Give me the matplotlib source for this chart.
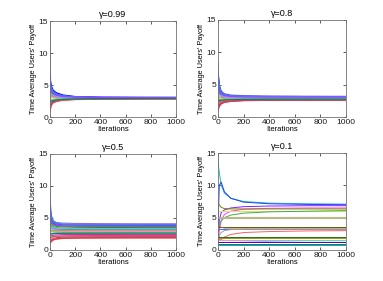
import numpy as np
import matplotlib.pyplot as plt

plt.rcParams['font.family'] = ['Liberation Sans', 'DejaVu Sans']

# iterations at which the curves are sampled
iters = [1, 4, 10, 25, 50, 100, 200, 400, 700, 1000]

titles = ['\u03b3=0.99', '\u03b3=0.8', '\u03b3=0.5', '\u03b3=0.1']

colors = ['#8b6fd0', '#0000ff', '#2040e0', '#ff2020', '#e04040', '#10a010',
          '#30c030', '#00c0c0', '#d020d0', '#a0a000', '#808080', '#ff8080',
          '#40a0a0', '#6060ff', '#c0c020', '#20b060', '#b04080', '#ff60ff',
          '#70d070', '#4080ff', '#c06040', '#60c0e0', '#a040ff', '#008080']

# gamma = 0.99
p1 = [
    [15.0, 6.0, 4.4, 3.8, 3.5, 3.25, 3.1, 3.05, 3.05, 3.05],
    [6.5, 5.6, 4.9, 4.2, 3.8, 3.45, 3.2, 3.1, 3.08, 3.07],
    [5.8, 5.2, 4.6, 4.0, 3.6, 3.35, 3.15, 3.06, 3.04, 3.03],
    [1.0, 1.5, 2.0, 2.3, 2.5, 2.65, 2.75, 2.8, 2.82, 2.83],
    [0.8, 1.2, 1.8, 2.2, 2.4, 2.6, 2.72, 2.78, 2.8, 2.82],
    [5.0, 4.6, 4.1, 3.7, 3.4, 3.2, 3.08, 3.03, 3.01, 3.0],
    [4.5, 4.2, 3.9, 3.5, 3.3, 3.12, 3.04, 3.0, 2.98, 2.98],
    [3.5, 3.6, 3.5, 3.3, 3.15, 3.05, 3.0, 2.97, 2.96, 2.96],
    [2.0, 2.3, 2.5, 2.65, 2.72, 2.8, 2.85, 2.88, 2.9, 2.9],
    [4.0, 4.0, 3.8, 3.5, 3.3, 3.15, 3.06, 3.02, 3.0, 3.0],
    [2.5, 2.6, 2.65, 2.7, 2.75, 2.8, 2.86, 2.9, 2.91, 2.92],
    [1.5, 1.9, 2.2, 2.4, 2.55, 2.7, 2.8, 2.85, 2.87, 2.88],
    [3.0, 3.2, 3.3, 3.2, 3.1, 3.02, 2.98, 2.96, 2.95, 2.95],
    [5.5, 4.9, 4.4, 3.9, 3.55, 3.3, 3.12, 3.05, 3.04, 3.03],
    [2.8, 3.0, 3.0, 3.0, 2.98, 2.96, 2.95, 2.94, 2.94, 2.94],
    [4.2, 3.9, 3.7, 3.4, 3.2, 3.08, 3.02, 2.99, 2.98, 2.98],
    [1.2, 1.6, 2.0, 2.35, 2.55, 2.72, 2.8, 2.84, 2.86, 2.86],
    [3.8, 3.5, 3.4, 3.25, 3.1, 3.02, 2.98, 2.96, 2.95, 2.95],
    [2.2, 2.4, 2.6, 2.75, 2.82, 2.86, 2.9, 2.92, 2.93, 2.93],
    [6.0, 5.3, 4.6, 3.9, 3.55, 3.3, 3.14, 3.08, 3.06, 3.06],
    [1.8, 2.0, 2.3, 2.5, 2.62, 2.74, 2.82, 2.86, 2.88, 2.89],
    [3.2, 3.4, 3.6, 3.45, 3.25, 3.1, 3.02, 2.99, 2.98, 2.97],
    [4.8, 4.4, 4.0, 3.6, 3.4, 3.2, 3.08, 3.03, 3.01, 3.01],
    [2.6, 2.4, 2.45, 2.55, 2.65, 2.75, 2.84, 2.88, 2.9, 2.91],
]

# gamma = 0.8
p2 = [
    [8.5, 6.5, 5.0, 4.0, 3.6, 3.4, 3.3, 3.25, 3.22, 3.2],
    [7.0, 6.0, 4.8, 3.9, 3.5, 3.3, 3.2, 3.15, 3.12, 3.1],
    [6.5, 5.6, 4.5, 3.8, 3.4, 3.2, 3.1, 3.05, 3.02, 3.0],
    [1.0, 1.4, 1.8, 2.1, 2.3, 2.45, 2.55, 2.6, 2.62, 2.63],
    [0.8, 1.2, 1.6, 2.0, 2.25, 2.4, 2.52, 2.58, 2.6, 2.6],
    [5.5, 5.0, 4.2, 3.6, 3.3, 3.15, 3.05, 3.0, 2.98, 2.97],
    [5.0, 4.6, 4.0, 3.5, 3.25, 3.1, 3.0, 2.95, 2.93, 2.92],
    [4.0, 3.9, 3.6, 3.3, 3.1, 3.0, 2.92, 2.88, 2.86, 2.85],
    [2.0, 2.2, 2.4, 2.55, 2.65, 2.72, 2.76, 2.78, 2.79, 2.8],
    [4.5, 4.3, 3.9, 3.5, 3.3, 3.2, 3.15, 3.12, 3.1, 3.1],
    [2.5, 2.6, 2.7, 2.75, 2.78, 2.8, 2.82, 2.83, 2.84, 2.84],
    [1.5, 1.8, 2.1, 2.35, 2.5, 2.6, 2.66, 2.7, 2.72, 2.72],
    [3.0, 3.1, 3.1, 3.05, 3.0, 2.97, 2.95, 2.94, 2.93, 2.93],
    [6.0, 5.3, 4.4, 3.7, 3.4, 3.25, 3.2, 3.17, 3.16, 3.15],
    [2.8, 2.9, 2.95, 2.95, 2.93, 2.9, 2.88, 2.87, 2.87, 2.87],
    [4.2, 4.0, 3.7, 3.4, 3.2, 3.08, 3.0, 2.97, 2.96, 2.95],
    [1.2, 1.5, 1.9, 2.2, 2.4, 2.5, 2.58, 2.62, 2.64, 2.65],
    [3.8, 3.6, 3.4, 3.2, 3.05, 2.98, 2.93, 2.91, 2.9, 2.9],
    [2.2, 2.4, 2.6, 2.7, 2.74, 2.77, 2.79, 2.8, 2.8, 2.8],
    [7.5, 6.2, 4.9, 3.9, 3.5, 3.3, 3.22, 3.18, 3.16, 3.15],
    [1.8, 2.0, 2.3, 2.5, 2.6, 2.68, 2.72, 2.75, 2.76, 2.76],
    [3.2, 3.4, 3.5, 3.35, 3.2, 3.1, 3.05, 3.02, 3.01, 3.0],
    [4.8, 4.4, 3.9, 3.5, 3.3, 3.18, 3.1, 3.06, 3.05, 3.05],
    [2.6, 2.5, 2.55, 2.6, 2.65, 2.7, 2.73, 2.75, 2.76, 2.76],
]

# gamma = 0.5
p3 = [
    [10.0, 7.0, 5.5, 4.6, 4.3, 4.2, 4.15, 4.12, 4.1, 4.1],
    [7.0, 6.0, 5.0, 4.4, 4.1, 3.95, 3.9, 3.88, 3.87, 3.86],
    [6.0, 5.4, 4.7, 4.2, 3.9, 3.75, 3.7, 3.68, 3.67, 3.66],
    [1.0, 1.2, 1.4, 1.6, 1.75, 1.85, 1.9, 1.92, 1.93, 1.93],
    [0.8, 1.1, 1.3, 1.55, 1.7, 1.8, 1.85, 1.87, 1.88, 1.88],
    [5.5, 5.0, 4.4, 3.9, 3.7, 3.6, 3.55, 3.52, 3.5, 3.5],
    [5.0, 4.6, 4.1, 3.7, 3.5, 3.4, 3.35, 3.33, 3.32, 3.32],
    [4.0, 3.9, 3.6, 3.3, 3.15, 3.08, 3.05, 3.03, 3.02, 3.02],
    [2.0, 2.1, 2.2, 2.3, 2.35, 2.4, 2.42, 2.43, 2.44, 2.44],
    [4.5, 4.4, 4.1, 3.9, 3.8, 3.75, 3.72, 3.71, 3.7, 3.7],
    [2.5, 2.55, 2.6, 2.65, 2.68, 2.7, 2.71, 2.72, 2.72, 2.72],
    [1.5, 1.7, 1.9, 2.05, 2.12, 2.17, 2.2, 2.21, 2.22, 2.22],
    [3.0, 3.05, 3.1, 3.1, 3.1, 3.1, 3.1, 3.1, 3.1, 3.1],
    [6.5, 5.6, 4.8, 4.3, 4.1, 4.0, 3.96, 3.94, 3.93, 3.92],
    [2.8, 2.85, 2.9, 2.9, 2.9, 2.88, 2.87, 2.87, 2.87, 2.87],
    [4.2, 4.0, 3.7, 3.45, 3.3, 3.22, 3.18, 3.16, 3.15, 3.15],
    [1.2, 1.4, 1.6, 1.8, 1.92, 2.0, 2.05, 2.07, 2.08, 2.08],
    [3.8, 3.6, 3.4, 3.25, 3.15, 3.1, 3.06, 3.05, 3.04, 3.04],
    [2.2, 2.3, 2.45, 2.55, 2.6, 2.62, 2.64, 2.65, 2.65, 2.65],
    [8.0, 6.5, 5.2, 4.5, 4.2, 4.05, 4.0, 3.98, 3.97, 3.96],
    [1.8, 1.9, 2.0, 2.1, 2.15, 2.2, 2.23, 2.25, 2.26, 2.26],
    [3.2, 3.4, 3.5, 3.45, 3.4, 3.38, 3.36, 3.35, 3.35, 3.35],
    [4.8, 4.5, 4.2, 3.95, 3.82, 3.76, 3.73, 3.72, 3.71, 3.71],
    [2.6, 2.5, 2.5, 2.55, 2.58, 2.6, 2.62, 2.62, 2.63, 2.63],
]

# gamma = 0.1
p4 = [
    [15.0, 13.0, 12.0, 10.0, 8.8, 8.0, 7.5, 7.25, 7.15, 7.1],
    [1.0, 6.0, 10.0, 10.5, 9.0, 8.0, 7.4, 7.15, 7.05, 7.0],
    [1.0, 2.5, 4.5, 5.8, 6.2, 6.5, 6.7, 6.8, 6.85, 6.85],
    [0.8, 1.5, 3.0, 4.5, 5.5, 6.0, 6.3, 6.45, 6.5, 6.5],
    [7.2, 7.2, 7.0, 6.6, 6.4, 6.35, 6.35, 6.35, 6.35, 6.35],
    [6.0, 6.0, 6.0, 6.0, 6.0, 6.0, 6.0, 6.0, 6.0, 6.0],
    [3.5, 3.5, 3.8, 4.5, 5.0, 5.4, 5.7, 5.9, 6.0, 6.1],
    [4.9, 4.9, 4.9, 4.9, 4.9, 4.9, 4.9, 4.9, 4.9, 4.9],
    [5.0, 5.0, 5.0, 5.0, 5.0, 5.0, 5.0, 5.0, 5.0, 5.0],
    [3.5, 3.5, 3.5, 3.5, 3.5, 3.5, 3.5, 3.5, 3.5, 3.5],
    [3.3, 3.3, 3.3, 3.3, 3.3, 3.3, 3.3, 3.3, 3.3, 3.3],
    [3.8, 2.5, 1.6, 1.6, 2.0, 2.4, 2.7, 2.85, 2.95, 3.0],
    [1.5, 1.8, 2.2, 2.7, 3.0, 3.15, 3.2, 3.2, 3.2, 3.2],
    [3.9, 3.8, 3.6, 3.5, 3.4, 3.4, 3.4, 3.4, 3.4, 3.4],
    [2.0, 2.0, 2.0, 2.0, 2.0, 2.0, 2.0, 2.0, 2.0, 2.0],
    [1.8, 1.8, 1.8, 1.8, 1.8, 1.8, 1.8, 1.8, 1.8, 1.8],
    [1.6, 1.6, 1.6, 1.6, 1.6, 1.6, 1.6, 1.6, 1.6, 1.6],
    [1.5, 1.5, 1.5, 1.5, 1.5, 1.45, 1.4, 1.3, 1.2, 1.2],
    [1.3, 1.3, 1.3, 1.3, 1.3, 1.3, 1.3, 1.3, 1.3, 1.3],
    [1.0, 1.0, 1.0, 1.0, 1.0, 1.0, 1.0, 1.0, 1.0, 1.0],
    [0.8, 0.8, 0.8, 0.8, 0.8, 0.8, 0.8, 0.8, 0.8, 0.8],
]
p4_colors = ['#20c0b0', '#2040ff', '#8020ff', '#ff40ff', '#808000', '#e0e060',
             '#40b040', '#c0c090', '#b8b888', '#006000', '#2080ff', '#ff6060',
             '#a0a0a0', '#c06020', '#207020', '#a0a000', '#40e0e0', '#ff80ff',
             '#6000a0', '#008080', '#20a0a0']
p4_widths = [0.7, 0.7, 0.7, 0.7, 0.7, 0.7, 0.7, 1.5, 1.5, 0.7, 0.7, 0.7,
             0.7, 0.7, 0.7, 0.7, 0.7, 0.7, 0.7, 0.7, 0.7]

panels = [p1, p2, p3, p4]
positions = [[50/383, 1 - 117/281, 126/383, 96/281],
             [218/383, 1 - 117/281, 128/383, 97/281],
             [50/383, 1 - 250/281, 126/383, 96/281],
             [218/383, 1 - 250/281, 128/383, 97/281]]

fig = plt.figure(figsize=(3.83, 2.81), dpi=100)
for k in range(4):
    ax = fig.add_axes(positions[k])
    for i, ys in enumerate(panels[k]):
        if k == 3:
            ax.plot(iters, ys, color=p4_colors[i], lw=p4_widths[i])
        else:
            ax.plot(iters, ys, color=colors[i % len(colors)], lw=0.8)
    ax.set_xlim(0, 1000)
    ax.set_ylim(0, 15)
    ax.set_xticks([0, 200, 400, 600, 800, 1000])
    ax.set_yticks([0, 5, 10, 15])
    ax.tick_params(direction='in', length=2, width=0.5, labelsize=6,
                   top=True, right=True, pad=1.5, colors='0.1')
    for s in ax.spines.values():
        s.set_linewidth(0.6)
        s.set_color('0.45')
    ax.set_title(titles[k], fontsize=6.5, pad=3)
    ax.set_xlabel('Iterations', fontsize=5.5, labelpad=0)
    ax.set_ylabel("Time Average Users' Payoff", fontsize=5.3, labelpad=1)

fig.savefig('out.png', dpi=100)
